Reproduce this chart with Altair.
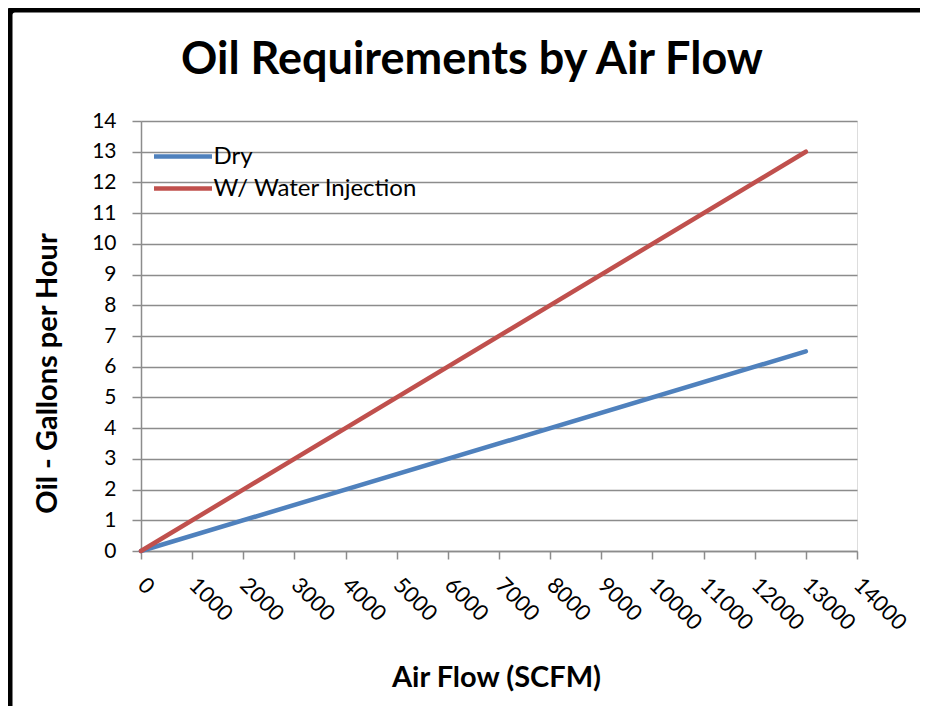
import altair as alt
import pandas as pd

series = ["Dry", "Dry", "W/ Water Injection", "W/ Water Injection"]
air_flow = [0, 13000, 0, 13000]
oil_gph = [0, 6.5, 0, 13]

x_ticks = list(range(0, 14001, 1000))
y_ticks = list(range(0, 15, 1))
colors = ["#4F81BD", "#C0504D"]
series_names = ["Dry", "W/ Water Injection"]
title_text = ["Oil Requirements by Air Flow"]

df = pd.DataFrame({"series": series, "air": air_flow, "oil": oil_gph})

FONT = "Lato"
GRAY = "#8C8C8C"

lines = alt.Chart(df).mark_line(strokeWidth=4.5, strokeCap="round").encode(
    x=alt.X("air:Q",
            scale=alt.Scale(domain=[0, 14000], nice=False),
            axis=alt.Axis(values=x_ticks, format="d", title="Air Flow (SCFM)", grid=False,
                          labelAngle=45, labelAlign="left", labelBaseline="middle",
                          labelFontSize=22, labelFont=FONT, labelColor="#000000",
                          labelPadding=22, tickSize=8, tickColor=GRAY, tickWidth=1.5,
                          domainColor=GRAY, domainWidth=1.5, labelOverlap=False,
                          labelFlush=False,
                          titleFont=FONT, titleFontSize=29, titleFontWeight="bold",
                          titleColor="#000000", titleX=355, titleY=126,
                          titleAlign="center", titleBaseline="middle")),
    y=alt.Y("oil:Q",
            scale=alt.Scale(domain=[0, 14], nice=False),
            axis=alt.Axis(values=y_ticks, format="d", title="Oil - Gallons per Hour",
                          gridColor=GRAY, gridWidth=1.5,
                          labelFontSize=21, labelFont=FONT, labelColor="#000000",
                          labelPadding=16, tickSize=9, tickColor=GRAY, tickWidth=1.5,
                          domainColor=GRAY, domainWidth=1.5, labelOverlap=False,
                          titleFont=FONT, titleFontSize=29, titleFontWeight="bold",
                          titleColor="#000000", titleX=-94, titleY=252,
                          titleAngle=-90, titleAlign="center", titleBaseline="middle")),
    color=alt.Color("series:N",
                    scale=alt.Scale(domain=series_names, range=colors),
                    legend=alt.Legend(title=None, orient="none", legendX=29.5, legendY=23,
                                      symbolType="M-2.9,0H2.9", symbolSize=400,
                                      symbolStrokeWidth=4.5, labelFontSize=24,
                                      labelFont=FONT, labelColor="#000000",
                                      labelLimit=0, labelOffset=18, rowPadding=7,
                                      padding=0)),
)

title = alt.Chart(pd.DataFrame({"t": title_text})).mark_text(
    font=FONT, fontSize=45, fontWeight="bold", color="#000000",
    align="center", baseline="alphabetic"
).encode(
    text="t:N", x=alt.value(331), y=alt.value(-47),
)

border = alt.Chart(pd.DataFrame({"a": [0]})).mark_rect(
    fill=None, stroke="#000000", strokeWidth=7, cornerRadius=6
).encode(
    x=alt.value(-132), x2=alt.value(1200),
    y=alt.value(-112), y2=alt.value(1200),
)

chart = alt.layer(lines, title, border).properties(
    width=716, height=430,
    autosize=alt.AutoSizeParams(type="none"),
    padding={"left": 133, "top": 113, "right": 63, "bottom": 155},
).configure_view(stroke=None).configure(background="white")

chart.save("out.html", embed_options={"renderer": "svg", "actions": False})
